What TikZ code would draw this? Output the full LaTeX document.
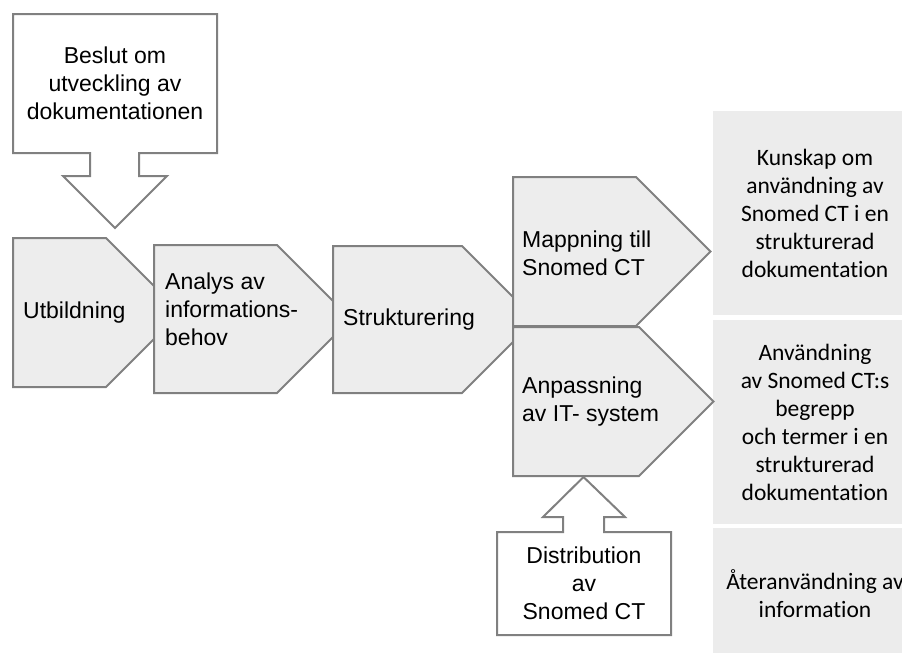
\documentclass[tikz,border=0pt]{standalone}
\usepackage{fontspec}
\setmainfont{Liberation Sans}
\newfontfamily\calibri[Ligatures={NoCommon,NoRare,NoDiscretionary}]{Carlito}
\definecolor{shapegray}{RGB}{237,237,237}
\definecolor{linegray}{RGB}{128,128,128}
\definecolor{boxgray}{RGB}{236,236,236}
\tikzset{
  shapeline/.style={draw=linegray, line width=2pt, fill=shapegray, line join=miter},
  calloutline/.style={draw=linegray, line width=2pt, fill=white, line join=miter},
  steptext/.style={anchor=west, inner sep=0pt, align=left, font=\fontsize{23}{28}\selectfont},
  callouttext/.style={inner sep=0pt, align=center, font=\fontsize{23}{28}\selectfont},
  resultbox/.style={fill=boxgray, minimum width=204pt, inner sep=0pt, align=center, font=\calibri\fontsize{23.5}{28}\selectfont},
}
% left, top, body width, height
\newcommand{\chevron}[4]{%
  \draw[shapeline] (#1,#2) -- ++(#3,0) -- ++(#4/2,#4/2) -- ++(-#4/2,#4/2) -- ++(-#3,0) -- cycle;}
\begin{document}
\begin{tikzpicture}[x=1pt, y=-1pt]
    \useasboundingbox (0,0) rectangle (902,653);
    \clip (0,0) rectangle (902,653);
    % results
    \node[resultbox, minimum height=204pt] (kun) at (815,213) {Kunskap om\\användning av\\Snomed CT i en\\strukturerad\\dokumentation};
    \node[resultbox, minimum height=204pt] (anv) at (815,422) {Användning\\av Snomed CT:s\\begrepp\\och termer i en\\strukturerad\\dokumentation};
    \node[resultbox, minimum height=132pt] (ate) at (815,594) {Återanvändning av\\information};
    % decision callout
    \draw[calloutline] (13,14) -- (217,14) -- (217,153) -- (139,153) -- (139,176) -- (167,176)
        -- (115,228) -- (63,176) -- (90,176) -- (90,153) -- (13,153) -- cycle;
    \node[callouttext] (bes) at (115,83) {Beslut om\\utveckling av\\dokumentationen};
    % steps
    \chevron{13}{238}{93}{149}
    \node[steptext] (utb) at (23,313) {Utbildning};
    \chevron{154}{245}{123}{148}
    \node[steptext] (ana) at (165,309) {Analys av\\informations-\\behov};
    \chevron{333}{246}{129}{147}
    \node[steptext] (str) at (343,320) {Strukturering};
    \chevron{513}{177}{123}{149}
    \node[steptext] (map) at (522,253) {Mappning till\\Snomed CT};
    \chevron{513}{327}{126}{149}
    \node[steptext] (anp) at (522,402) {Anpassning\\av IT- system};
    % distribution callout
    \draw[calloutline] (497,532) -- (563,532) -- (563,517) -- (543,517) -- (583.5,477) -- (625,517)
        -- (604,517) -- (604,532) -- (671,532) -- (671,635) -- (497,635) -- cycle;
    \node[callouttext] (dis) at (584,583) {Distribution\\av\\Snomed CT};
\end{tikzpicture}
\end{document}
